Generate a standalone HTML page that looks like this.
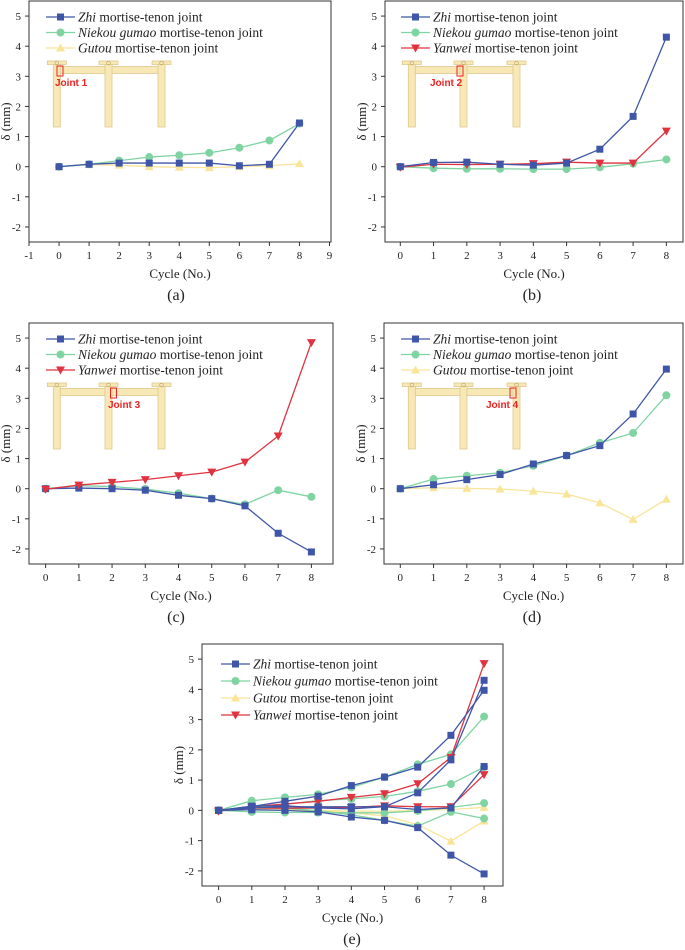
<!DOCTYPE html>
<html><head><meta charset="utf-8"><style>
body{margin:0;background:#fff;}
svg{display:block;font-family:"Liberation Serif",serif;}
</style></head><body>
<svg id="fig" width="685" height="950" viewBox="0 0 685 950" xmlns="http://www.w3.org/2000/svg"></svg>
<script>
const cycles=[0,1,2,3,4,5,6,7,8];
const yTicks=[-2,-1,0,1,2,3,4,5];
const xTicksA=[-1,0,1,2,3,4,5,6,7,8,9];
const xTicksB=[0,1,2,3,4,5,6,7,8];
const zhiA=[0,0.08,0.12,0.12,0.12,0.12,0.03,0.08,1.45];
const niekouA=[0,0.08,0.2,0.32,0.38,0.46,0.63,0.87,1.43];
const gutouA=[0,0.07,0.05,0.0,-0.02,-0.03,0,0.03,0.1];
const zhiB=[0,0.14,0.15,0.08,0.05,0.12,0.58,1.67,4.3];
const niekouB=[0,-0.05,-0.07,-0.07,-0.08,-0.08,-0.02,0.1,0.24];
const yanweiB=[-0.02,0.08,0.07,0.08,0.1,0.15,0.12,0.12,1.18];
const zhiC=[0,0.02,0.0,-0.05,-0.22,-0.33,-0.57,-1.48,-2.1];
const niekouC=[0,0.1,0.07,-0.01,-0.15,-0.33,-0.52,-0.05,-0.27];
const yanweiC=[-0.02,0.12,0.21,0.3,0.43,0.55,0.88,1.75,4.85];
const zhiD=[0,0.13,0.3,0.47,0.82,1.1,1.43,2.48,3.97];
const niekouD=[0,0.32,0.43,0.53,0.76,1.1,1.52,1.85,3.1];
const gutouD=[0,0.03,0.01,-0.01,-0.08,-0.18,-0.47,-1.02,-0.35];

const NS="http://www.w3.org/2000/svg";
const svg=document.getElementById('fig');
function mk(tag,attrs,parent,text){const e=document.createElementNS(NS,tag);for(const k in attrs)e.setAttribute(k,attrs[k]);if(text!==undefined)e.textContent=text;(parent||svg).appendChild(e);return e;}
const COL={zhi:'#3f56a8',niekou:'#7fd4a2',gutou:'#f9e49a',yanwei:'#e0323f'};
const NAMES={zhi:'Zhi',niekou:'Niekou gumao',gutou:'Gutou',yanwei:'Yanwei'};

function marker(g,type,x,y,c){
  let m;
  if(type==='zhi')m=mk('rect',{x:x-3.5,y:y-3.5,width:7,height:7,fill:c},g);
  else if(type==='niekou')m=mk('circle',{cx:x,cy:y,r:4,fill:c},g);
  else if(type==='gutou')m=mk('polygon',{points:`${x},${y-4.5} ${x-4.5},${y+3.5} ${x+4.5},${y+3.5}`,fill:c},g);
  else m=mk('polygon',{points:`${x},${y+4.5} ${x-4.5},${y-3.5} ${x+4.5},${y-3.5}`,fill:c},g);
  
  
}

function panel(p){
  const g=mk('g',{},svg);
  
  
  const sx=v=>p.x0+(v-p.xmin)/(p.xmax-p.xmin)*(p.x1-p.x0);
  const sy=v=>p.y1-(v-p.ymin)/(p.ymax-p.ymin)*(p.y1-p.y0);
  // inset drawing
  if(p.inset){
    const ig=mk('g',{},g);
    
    
    const ox=p.inset.ox, oy=p.inset.oy;
    const fill='#f8e8b6', st='#dcc88c';
    mk('rect',{x:ox+58,y:oy+66.5,width:104,height:7,fill:fill,stroke:st,'stroke-width':0.8},ig);
    [53.3,105,158].forEach(px=>{
      mk('rect',{x:ox+px,y:oy+62,width:7,height:65,fill:fill,stroke:st,'stroke-width':0.8},ig);
      mk('rect',{x:ox+px-6,y:oy+61,width:19,height:3.5,fill:fill,stroke:st,'stroke-width':0.8},ig);
      mk('circle',{cx:ox+px+3.5,cy:oy+63,r:1.8,fill:'none',stroke:'#b9a060','stroke-width':0.6},ig);
    });
    mk('rect',{x:p.inset.rx,y:oy+p.inset.ry,width:6,height:10,fill:'none',stroke:'#ee2222','stroke-width':1},ig);
    const t=mk('text',{x:p.inset.lx,y:oy+86,fill:'#ee2222','font-family':'Liberation Sans, sans-serif','font-weight':'bold','font-size':'10'},ig,p.inset.label);
    
    
  }
  // frame
  const fr=mk('rect',{x:p.x0,y:p.y0,width:p.x1-p.x0,height:p.y1-p.y0,fill:'none',stroke:'#333','stroke-width':1},g);
  
  
  // ticks
  p.xticks.forEach(v=>{
    mk('line',{x1:sx(v),x2:sx(v),y1:p.y1,y2:p.y1+4,stroke:'#333'},g);
    const t=mk('text',{x:sx(v),y:p.y1+17,'text-anchor':'middle','font-size':'11',fill:'#222'},g,String(v));
    
    
  });
  yTicks.forEach(v=>{
    mk('line',{x1:p.x0-4,x2:p.x0,y1:sy(v),y2:sy(v),stroke:'#333'},g);
    const t=mk('text',{x:p.x0-8,y:sy(v)+4,'text-anchor':'end','font-size':'11',fill:'#222'},g,String(v));
    
    
  });
  const xt=mk('text',{x:(p.x0+p.x1)/2,y:p.y1+36,'text-anchor':'middle','font-size':'13',fill:'#222'},g,'Cycle (No.)');
  
  
  const ycx=p.x0-19, ycy=(p.y0+p.y1)/2;
  const yt=mk('text',{x:ycx,y:ycy,'text-anchor':'middle','font-size':'13',fill:'#222',transform:`rotate(-90 ${ycx} ${ycy})`},g,'δ (mm)');
  
  
  const cap=mk('text',{x:p.capx,y:p.capy,'text-anchor':'middle','font-size':'16',fill:'#222'},g,'('+p.id+')');
  
  
  // series
  p.series.forEach(s=>{
    const sg=mk('g',{},g);
    
    
    const c=COL[s.type];
    const pts=s.data.map((v,i)=>sx(cycles[i])+','+sy(v)).join(' ');
    mk('polyline',{points:pts,fill:'none',stroke:c,'stroke-width':1.3},sg);
    s.data.forEach((v,i)=>marker(sg,s.type,sx(cycles[i]),sy(v),c));
  });
  // legend
  const lg=mk('g',{},g);
  
  
  p.legend.forEach((type,i)=>{
    const y=p.ly+i*p.lstep;
    const eg=mk('g',{},lg);
    
    
    mk('line',{x1:p.lx,x2:p.lx+29,y1:y,y2:y,stroke:COL[type],'stroke-width':1.3},eg);
    marker(eg,type,p.lx+14.5,y,COL[type]);
    const t=mk('text',{x:p.lx+32,y:y+4.5,'font-size':'13.5',fill:'#222'},eg);
    mk('tspan',{'font-style':'italic'},t,NAMES[type]);
    mk('tspan',{},t,' mortise-tenon joint');
  });
}

const YR={ymin:-2.5,ymax:5.5};
panel(Object.assign({id:'a',x0:29,x1:331,xmin:-1,xmax:9.05,y0:1,y1:242,xticks:xTicksA,capx:176,capy:300,
  series:[{type:'gutou',data:gutouA},{type:'niekou',data:niekouA},{type:'zhi',data:zhiA}],
  legend:['zhi','niekou','gutou'],lx:46,ly:17,lstep:15.5,
  inset:{ox:0,oy:0,rx:57,ry:66,lx:55,label:'Joint 1'}},YR));
panel(Object.assign({id:'b',x0:385,x1:683,xmin:-0.46,xmax:8.5,y0:1,y1:242,xticks:xTicksB,capx:532,capy:300,
  series:[{type:'niekou',data:niekouB},{type:'yanwei',data:yanweiB},{type:'zhi',data:zhiB}],
  legend:['zhi','niekou','yanwei'],lx:401,ly:17,lstep:15.5,
  inset:{ox:355,oy:0,rx:457,ry:66,lx:430,label:'Joint 2'}},YR));
panel(Object.assign({id:'c',x0:29,x1:333,xmin:-0.5,xmax:8.65,y0:323,y1:564,xticks:xTicksB,capx:176,capy:622,
  series:[{type:'niekou',data:niekouC},{type:'zhi',data:zhiC},{type:'yanwei',data:yanweiC}],
  legend:['zhi','niekou','yanwei'],lx:46,ly:339,lstep:15.5,
  inset:{ox:0,oy:322,rx:110.5,ry:66,lx:108,label:'Joint 3'}},YR));
panel(Object.assign({id:'d',x0:384,x1:683,xmin:-0.49,xmax:8.5,y0:323,y1:564,xticks:xTicksB,capx:532,capy:622,
  series:[{type:'gutou',data:gutouD},{type:'niekou',data:niekouD},{type:'zhi',data:zhiD}],
  legend:['zhi','niekou','gutou'],lx:401,ly:339,lstep:15.5,
  inset:{ox:355,oy:322,rx:510,ry:66,lx:486,label:'Joint 4'}},YR));
panel(Object.assign({id:'e',x0:202,x1:503,xmin:-0.5,xmax:8.57,y0:644,y1:886,xticks:xTicksB,capx:352,capy:944,
  series:[{type:'gutou',data:gutouA},{type:'gutou',data:gutouD},
          {type:'niekou',data:niekouA},{type:'niekou',data:niekouB},{type:'niekou',data:niekouC},{type:'niekou',data:niekouD},
          {type:'yanwei',data:yanweiB},{type:'yanwei',data:yanweiC},
          {type:'zhi',data:zhiA},{type:'zhi',data:zhiB},{type:'zhi',data:zhiC},{type:'zhi',data:zhiD}],
  legend:['zhi','niekou','gutou','yanwei'],lx:221,ly:664,lstep:17}, YR));
</script>
</body></html>
